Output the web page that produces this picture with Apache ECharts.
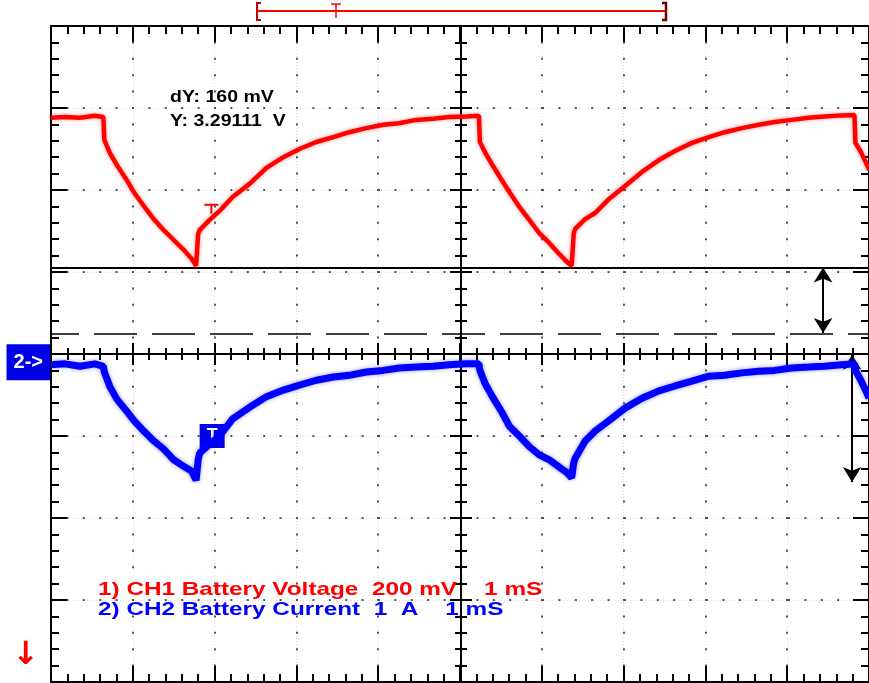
<!DOCTYPE html>
<html>
<head>
<meta charset="utf-8">
<script src="https://cdn.jsdelivr.net/npm/echarts@6/dist/echarts.min.js"></script>
<style>
html,body{margin:0;padding:0;background:#fff;}
#c{width:869px;height:683px;}
</style>
</head>
<body>
<div id="c"></div>
<script>
// ---- data (time in ms, CH1 in V, CH2 in A) ----
const timeMs = [
  0.000,0.171,0.354,0.537,0.640,0.652,0.720,0.805,0.927,1.012,
  1.134,1.256,1.378,1.500,1.622,1.720,1.774,1.799,1.817,1.939,
  2.061,2.220,2.427,2.634,2.841,3.037,3.244,3.451,3.646,3.854,
  4.061,4.256,4.463,4.671,4.866,5.073,
  5.231,5.243,5.311,5.396,5.518,5.603,5.725,5.847,5.969,6.091,
  6.213,6.311,6.365,6.390,6.408,6.530,6.652,6.811,7.018,7.225,
  7.432,7.628,7.835,8.042,8.237,8.445,8.652,8.847,9.054,9.262,
  9.457,9.664,9.822,9.834,9.900,9.976,10.000
];
const ch1Voltage = [
  3.656,3.658,3.656,3.661,3.658,3.602,3.570,3.541,3.504,3.475,
  3.441,3.409,3.382,3.358,3.334,3.312,3.295,3.373,3.382,3.407,
  3.429,3.463,3.495,3.534,3.560,3.580,3.597,3.609,3.621,3.631,
  3.639,3.643,3.651,3.654,3.658,3.659,
  3.661,3.597,3.570,3.541,3.502,3.475,3.439,3.407,3.375,3.351,
  3.324,3.304,3.295,3.373,3.385,3.409,3.424,3.456,3.490,3.524,
  3.553,3.575,3.595,3.609,3.621,3.631,3.639,3.646,3.651,3.656,
  3.659,3.662,3.663,3.595,3.573,3.541,3.529
];
const ch2Current = [
  -0.03,-0.02,-0.05,-0.02,-0.05,-0.12,-0.30,-0.45,-0.60,-0.71,
  -0.84,-0.96,-1.06,-1.19,-1.27,-1.33,-1.44,-1.19,-1.11,-1.00,
  -0.90,-0.69,-0.55,-0.42,-0.34,-0.28,-0.22,-0.18,-0.16,-0.12,
  -0.10,-0.07,-0.06,-0.05,-0.03,-0.02,
  -0.02,-0.10,-0.27,-0.42,-0.62,-0.78,-0.90,-1.03,-1.13,-1.19,
  -1.28,-1.35,-1.41,-1.23,-1.17,-0.96,-0.84,-0.72,-0.56,-0.44,
  -0.35,-0.29,-0.23,-0.17,-0.16,-0.13,-0.11,-0.10,-0.07,-0.06,
  -0.05,-0.03,-0.02,-0.10,-0.22,-0.38,-0.44
];
const cursorVolts = [3.29111, 3.13111];
const ch2ArrowAmps = [0.09, -1.46];
const arrowTimes = [9.439, 9.793];
const triggerTime = 1.96;
const triggerCh1 = 3.434;
const triggerCh2 = -0.90;
const readoutLines = ['dY: 160 mV', 'Y: 3.29111  V'];
const legendLines = ['1) CH1 Battery Voltage  200 mV    1 mS', '2) CH2 Battery Current  1  A    1 mS'];
const legendColors = ['#ff0000', '#0000ff'];
const ch2Marker = '2->';

const RED = '#ff0000', BLUE = '#0000ff';
const BLACK = '#000';

function tickAxis(base, inside, majorLen, minorLen, showLine) {
  return Object.assign({
    type: 'value',
    axisLabel: { show: false },
    splitLine: { show: false },
    axisLine: { show: showLine, onZero: false, lineStyle: { color: BLACK, width: 2 } },
    axisTick: { show: true, inside: inside, length: majorLen, lineStyle: { color: BLACK, width: 2 } },
    minorTick: { show: true, splitNumber: 5, length: minorLen, lineStyle: { color: BLACK, width: 2 } },
    silent: true
  }, base);
}
const xBase = { min: 0, max: 10, interval: 1 };
const yBase = { min: -4, max: 4, interval: 1 };
const dotGrid = { show: true, lineStyle: { color: '#555', width: 2, type: [2, 14.4], dashOffset: 1 } };
const faintGrid = { show: true, lineStyle: { color: 'rgba(0,0,0,0.13)', width: 1, type: [1, 2] } };

const xAxes = [
  Object.assign(tickAxis(Object.assign({ position: 'bottom' }, xBase), true, 16, 8, true), { splitLine: dotGrid }),
  Object.assign(tickAxis(Object.assign({ position: 'top' }, xBase), true, 16, 8, true), { splitLine: faintGrid }),
  tickAxis(Object.assign({ position: 'bottom', offset: -328 }, xBase), false, 11, 6, true),
  tickAxis(Object.assign({ position: 'bottom', offset: -328 }, xBase), true, 11, 6, false)
];
const yAxes = [
  Object.assign(tickAxis(Object.assign({ position: 'left' }, yBase), true, 16, 8, true), { splitLine: dotGrid }),
  Object.assign(tickAxis(Object.assign({ position: 'right' }, yBase), true, 16, 8, true), { splitLine: faintGrid }),
  tickAxis(Object.assign({ position: 'left', offset: -410 }, yBase), false, 11, 6, true),
  tickAxis(Object.assign({ position: 'left', offset: -410 }, yBase), true, 11, 6, false),
  { type: 'value', min: 2.28, max: 3.88, show: false },
  { type: 'value', min: -3.9, max: 4.1, show: false }
];

const ch1Data = timeMs.map((t, i) => [t, ch1Voltage[i]]);
const ch2Data = timeMs.map((t, i) => [t, ch2Current[i]]);

const chart = echarts.init(document.getElementById('c'), null, { renderer: 'canvas' });
chart.setOption({
  animation: false,
  backgroundColor: '#fff',
  grid: { left: 51, top: 26, width: 820, height: 656, containLabel: false },
  xAxis: xAxes,
  yAxis: yAxes,
  series: [
    {
      name: 'CH1 Battery Voltage', type: 'line', xAxisIndex: 0, yAxisIndex: 4,
      data: ch1Data, showSymbol: false, z: 5,
      lineStyle: { color: RED, width: 4.5, shadowBlur: 4, shadowColor: 'rgba(255,0,0,0.4)' },
      itemStyle: { color: RED },
      markLine: {
        silent: true, symbol: 'none', animation: false,
        label: { show: false },
        data: [
          { yAxis: cursorVolts[0], lineStyle: { color: BLACK, width: 2, type: 'solid' } },
          { yAxis: cursorVolts[1], lineStyle: { color: BLACK, width: 1.5, type: [43, 15], dashOffset: 15 } },
          [
            { coord: [arrowTimes[0], cursorVolts[0]], symbol: 'arrow', symbolSize: [14, 15] },
            { coord: [arrowTimes[0], cursorVolts[1]], symbol: 'arrow', symbolSize: [14, 15],
              lineStyle: { color: BLACK, width: 2, type: 'solid' } }
          ]
        ]
      },
      markPoint: {
        silent: true, animation: false,
        data: [{
          coord: [triggerTime, triggerCh1],
          symbol: 'path://M0,0h14v2h-14z M6,0h2v10h-2z',
          symbolSize: [14, 10],
          itemStyle: { color: RED },
          label: { show: false }
        }]
      }
    },
    {
      name: 'CH2 Battery Current', type: 'line', xAxisIndex: 0, yAxisIndex: 5,
      data: ch2Data, showSymbol: false, z: 5,
      lineStyle: { color: BLUE, width: 7, shadowBlur: 4, shadowColor: 'rgba(0,0,255,0.4)' },
      itemStyle: { color: BLUE },
      markLine: {
        silent: true, symbol: 'none', animation: false,
        data: [
          { yAxis: 0, lineStyle: { color: 'rgba(0,0,0,0)', width: 1 },
            label: { show: true, position: 'start', distance: 1, formatter: ch2Marker,
              color: '#fff', fontSize: 20, fontWeight: 'bold', fontFamily: 'Liberation Sans',
              backgroundColor: '#0000e6', padding: [8, 7, 8, 7], lineHeight: 20 } },
          [
            { coord: [arrowTimes[1], ch2ArrowAmps[0]], symbol: 'arrow', symbolSize: [14, 15] },
            { coord: [arrowTimes[1], ch2ArrowAmps[1]], symbol: 'arrow', symbolSize: [14, 15],
              lineStyle: { color: BLACK, width: 2, type: 'solid' }, label: { show: false } }
          ]
        ]
      },
      markPoint: {
        silent: true, animation: false,
        data: [{
          coord: [triggerTime + 0.01, triggerCh2],
          symbol: 'rect', symbolSize: [25, 24],
          itemStyle: { color: '#0000e6' },
          label: { show: true, position: 'inside', formatter: 'T', color: '#fff',
            fontSize: 18, fontWeight: 'bold', fontFamily: 'Liberation Sans' }
        }]
      }
    }
  ],
  graphic: [
    ...readoutLines.map((t, i) => ({
      type: 'text', x: 170, y: 98 + i * 24, scaleX: 1.22, silent: true,
      style: { text: t, font: 'bold 16px "Liberation Sans"', fill: BLACK, textAlign: 'left', textVerticalAlign: 'middle' }
    })),
    ...legendLines.map((t, i) => ({
      type: 'text', x: 98, y: 589.5 + i * 20, scaleX: 1.28, silent: true, z: 10,
      style: { text: t, font: 'bold 19px "Liberation Sans"', fill: legendColors[i], textAlign: 'left', textVerticalAlign: 'middle' }
    })),
    { type: 'text', x: 26, y: 656, silent: true,
      style: { text: '\u2193', font: 'bold 32px "DejaVu Sans"', fill: RED, textAlign: 'center', textVerticalAlign: 'middle' } },
    { type: 'group', silent: true, children: [
      { type: 'line', shape: { x1: 257, y1: 11, x2: 666, y2: 11 }, style: { stroke: RED, lineWidth: 2 } },
      { type: 'polyline', shape: { points: [[261, 3], [257, 3], [257, 20], [261, 20]] }, style: { stroke: '#cc0000', lineWidth: 2, fill: null } },
      { type: 'line', shape: { x1: 331, y1: 4, x2: 341, y2: 4 }, style: { stroke: RED, lineWidth: 1.5 } },
      { type: 'line', shape: { x1: 336, y1: 4, x2: 336, y2: 18 }, style: { stroke: RED, lineWidth: 1.5 } },
      { type: 'polyline', shape: { points: [[662, 3], [666, 3], [666, 20], [662, 20]] }, style: { stroke: '#700000', lineWidth: 2.5, fill: null } }
    ]}
  ]
});
</script>
</body>
</html>
